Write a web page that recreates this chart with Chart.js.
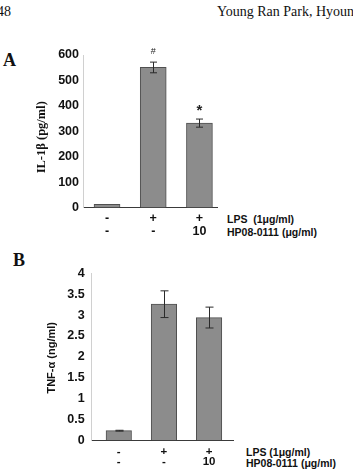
<!DOCTYPE html>
<html><head><meta charset="utf-8">
<script src="https://cdn.jsdelivr.net/npm/chart.js@4/dist/chart.umd.min.js"></script>
<style>
html,body{margin:0;padding:0;background:#fff;width:353px;height:475px;overflow:hidden;position:relative}
.t{position:absolute;white-space:nowrap;color:#111;line-height:1}
canvas{position:absolute}
</style></head><body>
<div class="t" style="left:-3px;top:4px;font:14px 'Liberation Serif',serif">48</div>
<div class="t" style="left:217px;top:4px;font:14px 'Liberation Serif',serif">Young Ran Park, Hyoun</div>
<div class="t" style="left:3px;top:50px;font:bold 18px 'Liberation Serif',serif">A</div>
<div class="t" style="left:13px;top:250px;font:bold 18px 'Liberation Serif',serif">B</div>
<div class="t" style="left:227px;top:213px;font:bold 10.5px 'Liberation Sans',Arial,sans-serif">LPS&nbsp;&nbsp;(1μg/ml)</div>
<div class="t" style="left:227px;top:226px;font:bold 10.5px 'Liberation Sans',Arial,sans-serif">HP08-0111 (μg/ml)</div>
<div class="t" style="left:246px;top:446px;font:bold 10.5px 'Liberation Sans',Arial,sans-serif">LPS (1μg/ml)</div>
<div class="t" style="left:246px;top:457px;font:bold 10.5px 'Liberation Sans',Arial,sans-serif">HP08-0111 (μg/ml)</div>
<canvas id="cA" width="353" height="210" style="left:0;top:40px;width:353px;height:210px"></canvas>
<canvas id="cB" width="353" height="220" style="left:0;top:255px;width:353px;height:220px"></canvas>
<script>
// ---- data ----
const lpsRow = ["-", "+", "+"];
const hpRow = ["-", "-", "10"];
const catIndex = [0, 1, 2];
const il1bValues = [12, 551, 332];
const il1bErrors = [0, 21, 16];
const il1bMarks = ["", "#", "*"];
const il1bTicks = [0, 100, 200, 300, 400, 500, 600];
const tnfValues = [0.23, 3.26, 2.94];
const tnfErrors = [0.01, 0.32, 0.25];
const tnfMarks = ["", "", ""];
const tnfTicks = [0, 0.5, 1, 1.5, 2, 2.5, 3, 3.5, 4];

const SANS = "'Liberation Sans', Arial, sans-serif";

const errPlugin = {
  id: 'errbars',
  afterDatasetsDraw(chart, args, opts) {
    const ctx = chart.ctx, ys = chart.scales.y;
    const meta = chart.getDatasetMeta(0);
    ctx.save();
    ctx.strokeStyle = '#2a2a2a';
    ctx.lineWidth = 1;
    meta.data.forEach((bar, i) => {
      const v = opts.values[i], e = opts.errors[i];
      const x = Math.round(bar.x) + 0.5;
      const yt = ys.getPixelForValue(v + e), yb = ys.getPixelForValue(v - e);
      if (e > 0) {
        ctx.beginPath();
        ctx.moveTo(x, yt); ctx.lineTo(x, yb);
        ctx.moveTo(x - opts.cap, yt); ctx.lineTo(x + opts.cap, yt);
        ctx.moveTo(x - opts.cap, yb); ctx.lineTo(x + opts.cap, yb);
        ctx.stroke();
      }
      const m = opts.marks[i];
      if (m) {
        ctx.fillStyle = '#222';
        ctx.textAlign = 'center';
        ctx.textBaseline = 'bottom';
        ctx.font = m === '*' ? "bold 15px " + SANS : "9px " + SANS;
        ctx.fillText(m, bar.x, yt - (m === '*' ? 1 : 6));
      }
    });
    // rotated y-axis title
    const t = opts.title;
    ctx.fillStyle = '#111';
    ctx.font = t.font;
    ctx.textAlign = 'center';
    ctx.textBaseline = 'middle';
    ctx.translate(t.x, (chart.chartArea.top + chart.chartArea.bottom) / 2 + t.dy);
    ctx.rotate(-Math.PI / 2);
    ctx.fillText(t.text, 0, 0);
    ctx.restore();
  }
};

function makeChart(id, p) {
  return new Chart(document.getElementById(id), {
    type: 'bar',
    data: {
      datasets: [{
        data: catIndex.map((c, i) => ({x: c, y: p.values[i]})),
        backgroundColor: '#8c8c8c',
        borderColor: '#505050',
        borderWidth: 1,
        barThickness: p.barW
      }]
    },
    options: {
      responsive: false,
      animation: false,
      events: [],
      layout: {padding: {left: 0, right: p.padRight, top: p.padTop, bottom: 0}},
      plugins: {
        legend: {display: false},
        tooltip: {enabled: false},
        errbars: {values: p.values, errors: p.errors, marks: p.marks, cap: p.cap,
                  title: {text: p.title, font: p.titleFont, x: p.titleX, dy: p.titleDy}}
      },
      scales: {
        x: {
          type: 'linear',
          offset: false,
          min: p.xMin, max: p.xMax,
          afterBuildTicks: s => { s.ticks = catIndex.map(v => ({value: v})); },
          afterFit: s => { s.height = p.xAxisH; },
          grid: {display: false, drawTicks: false},
          border: {display: true, color: '#3a3a3a', width: 1},
          ticks: {
            autoSkip: false, maxRotation: 0, padding: p.xPad, color: '#111',
            font: {family: SANS, weight: 'bold', size: p.xFont, lineHeight: p.xLH},
            callback: v => [lpsRow[v], hpRow[v]]
          }
        },
        y: {
          min: 0, max: p.yMax,
          afterBuildTicks: s => { s.ticks = p.ticks.map(v => ({value: v})); },
          afterFit: s => { s.width = p.yAxisW; },
          grid: {display: false, drawTicks: false},
          border: {display: true, color: '#d0d0d0', width: 1},
          ticks: {padding: p.yPad, color: '#111', font: {family: SANS, weight: 'bold', size: p.yFont},
                  callback: v => String(v)},
          title: {display: false}
        }
      }
    },
    plugins: [errPlugin]
  });
}

makeChart('cA', {
  values: il1bValues, errors: il1bErrors, marks: il1bMarks, ticks: il1bTicks,
  yMax: 600, barW: 26, cap: 3.5,
  xMin: -0.52, xMax: 2.38,
  padRight: 136, padTop: 15, xAxisH: 42.5, yAxisW: 83,
  xPad: 5, xFont: 12.5, xLH: 1.0, yPad: 4, yFont: 12.5,
  title: 'IL-1β (pg/ml)', titleFont: "bold 12.5px 'Liberation Serif', serif", titleX: 42, titleDy: 6
});

makeChart('cB', {
  values: tnfValues, errors: tnfErrors, marks: tnfMarks, ticks: tnfTicks,
  yMax: 4, barW: 25.5, cap: 4,
  xMin: -0.6, xMax: 2.53,
  padRight: 120, padTop: 18.3, xAxisH: 34.7, yAxisW: 91.7,
  xPad: 6, xFont: 11.5, xLH: 0.92, yPad: 7, yFont: 12.5,
  title: 'TNF-α (ng/ml)', titleFont: "bold 11px " + SANS, titleX: 52, titleDy: 1
});
</script>
</body></html>
